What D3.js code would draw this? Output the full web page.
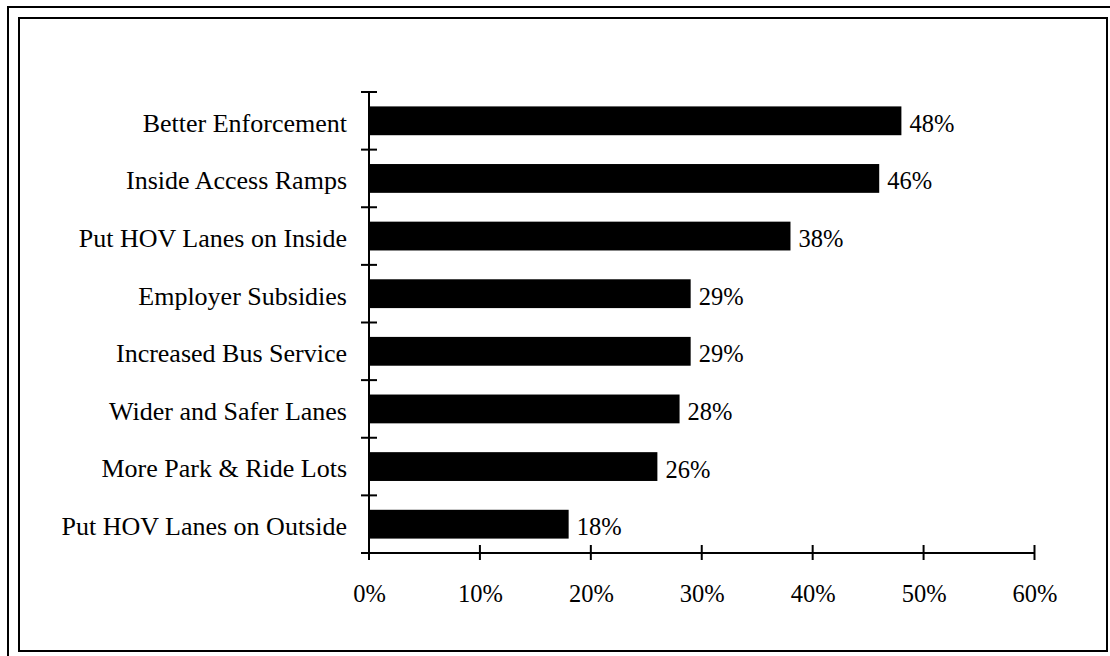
<!DOCTYPE html>
<html><head><meta charset="utf-8">
<script src="https://cdn.jsdelivr.net/npm/d3@7"></script>
<style>body{margin:0;background:#fff}svg{display:block}svg text{font-family:"Liberation Serif","Times New Roman",serif;fill:#000}</style>
</head><body><svg id="c" width="1110" height="656"></svg>
<script>
const categories = ["Better Enforcement","Inside Access Ramps","Put HOV Lanes on Inside","Employer Subsidies","Increased Bus Service","Wider and Safer Lanes","More Park & Ride Lots","Put HOV Lanes on Outside"];
const values = [48,46,38,29,29,28,26,18];
const xTicks = [0,10,20,30,40,50,60];

const svg = d3.select("#c");
const fsCat = 26, fsNum = 24.5;
const ff = '"Liberation Serif","Times New Roman",serif';
// borders
svg.append("rect").attr("x",8).attr("y",7).attr("width",1120).attr("height",670).attr("fill","none").attr("stroke","#000").attr("stroke-width",2);
svg.append("rect").attr("x",19).attr("y",18).attr("width",1088).attr("height",633).attr("fill","#fff").attr("stroke","#000").attr("stroke-width",2);

const x = d3.scaleLinear().domain([0,60]).range([369,1034.5]);
const y = d3.scaleBand().domain(categories).range([92,553]).paddingInner(0.5).paddingOuter(0.25);

const data = categories.map((c,i)=>({c,v:values[i]}));
svg.selectAll("rect.bar").data(data).join("rect").attr("class","bar")
  .attr("x",x(0)).attr("y",d=>y(d.c)).attr("width",d=>x(d.v)-x(0)).attr("height",y.bandwidth()).attr("fill","#000");

svg.selectAll("text.val").data(data).join("text").attr("class","val")
  .attr("x",d=>x(d.v)+8).attr("y",d=>y(d.c)+y.bandwidth()/2).attr("dy","0.45em")
  .attr("font-family",ff).style("font-size",fsNum+"px").text(d=>d.v+"%");

// category labels
svg.selectAll("text.cat").data(categories).join("text").attr("class","cat")
  .attr("x",347).attr("y",d=>y(d)+y.bandwidth()/2).attr("dy","0.42em").attr("text-anchor","end")
  .attr("font-family",ff).style("font-size",fsCat+"px").text(d=>d);

// y axis line and ticks (between categories)
svg.append("line").attr("x1",369).attr("x2",369).attr("y1",92).attr("y2",553).attr("stroke","#000").attr("stroke-width",2);
const yTickPos = d3.range(categories.length+1).map(i=>92+i*(553-92)/categories.length);
svg.selectAll("line.yt").data(yTickPos).join("line").attr("class","yt")
  .attr("x1",361).attr("x2",377).attr("y1",d=>d).attr("y2",d=>d).attr("stroke","#000").attr("stroke-width",2);

// x axis
const xAxis = d3.axisBottom(x).tickValues(xTicks).tickFormat(d=>d+"%").tickSizeInner(0).tickSizeOuter(0).tickPadding(0);
const gx = svg.append("g").attr("transform","translate(0,553)").call(xAxis);
gx.attr("font-family",ff).attr("font-size",null);
gx.select(".domain").remove();
gx.selectAll(".tick line").remove();
gx.selectAll(".tick text").attr("y",49).attr("dy",null).style("font-size",fsNum+"px").attr("fill","#000");
svg.append("line").attr("x1",361).attr("x2",x(60)).attr("y1",553).attr("y2",553).attr("stroke","#000").attr("stroke-width",2);
svg.selectAll("line.xt").data(xTicks).join("line").attr("class","xt")
  .attr("x1",d=>x(d)).attr("x2",d=>x(d)).attr("y1",545).attr("y2",560).attr("stroke","#000").attr("stroke-width",2);
</script></body></html>
